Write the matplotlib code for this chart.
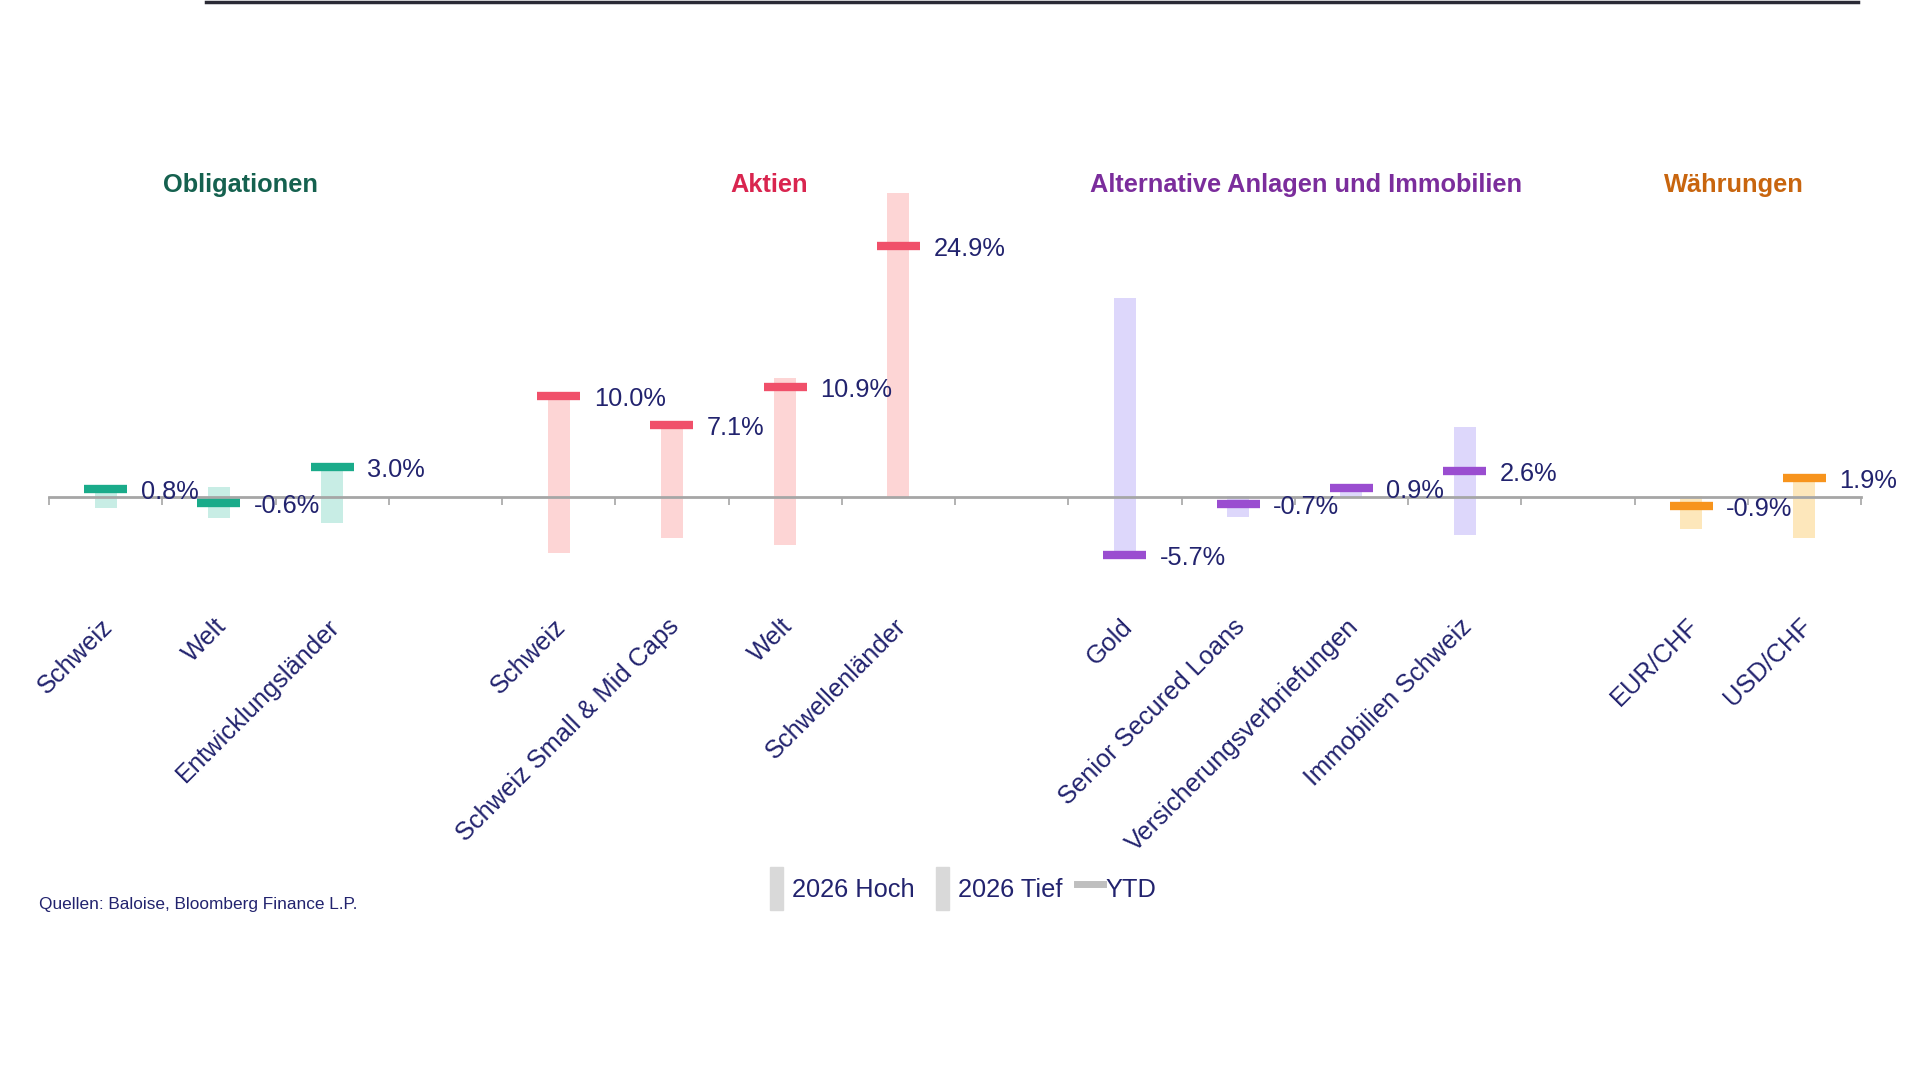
import matplotlib.pyplot as plt
from matplotlib.patches import Rectangle
from matplotlib.lines import Line2D
from matplotlib.legend_handler import HandlerPatch

plt.rcParams["font.family"] = ["Liberation Sans", "DejaVu Sans"]

# data (in %)
bond_labels = ["Schweiz", "Welt", "Entwicklungsländer"]
bond_ytd = [0.8, -0.6, 3.0]
bond_high = [1.0, 1.0, 3.0]
bond_low = [-1.1, -2.1, -2.6]

equity_labels = ["Schweiz", "Schweiz Small & Mid Caps", "Welt", "Schwellenländer"]
equity_ytd = [10.0, 7.1, 10.9, 24.9]
equity_high = [10.2, 7.3, 11.8, 30.1]
equity_low = [-5.5, -4.0, -4.7, 0.0]

alt_labels = ["Gold", "Senior Secured Loans", "Versicherungsverbriefungen", "Immobilien Schweiz"]
alt_ytd = [-5.7, -0.7, 0.9, 2.6]
alt_high = [19.7, 0.1, 0.9, 7.0]
alt_low = [-5.7, -2.0, -0.1, -3.7]

fx_labels = ["EUR/CHF", "USD/CHF"]
fx_ytd = [-0.9, 1.9]
fx_high = [0.1, 2.0]
fx_low = [-3.1, -4.0]

group_titles = ["Obligationen", "Aktien", "Alternative Anlagen und Immobilien", "Währungen"]

NAVY = "#22236e"
FS = 18.3

groups = [
    # labels, ytd, high, low, first slot, marker colour, bar colour, title colour, title x
    (bond_labels, bond_ytd, bond_high, bond_low, 0, "#1aab8a", "#c8ede5", "#15614f", 1.19),
    (equity_labels, equity_ytd, equity_high, equity_low, 4, "#f0506a", "#fdd5d5", "#d9254f", 5.86),
    (alt_labels, alt_ytd, alt_high, alt_low, 9, "#9a4dd0", "#ddd7fb", "#7b2d9c", 10.6),
    (fx_labels, fx_ytd, fx_high, fx_low, 14, "#f7941d", "#fde7bb", "#c8650e", 14.38),
]

fig = plt.figure(figsize=(19.2, 10.8), dpi=100)
ax = fig.add_axes([49 / 1920, 502 / 1080, 1812 / 1920, 404 / 1080])
ax.set_xlim(-0.5, 15.5)
ax.set_ylim(-8, 32)

for (labels, ytd, high, low, start, mcol, bcol, tcol, tx), title in zip(groups, group_titles):
    xs = [start + i for i in range(len(labels))]
    ax.bar(xs, high, width=0.195, color=bcol, zorder=1)
    ax.bar(xs, low, width=0.195, color=bcol, zorder=1)
    ax.hlines(ytd, [x - 0.19 for x in xs], [x + 0.19 for x in xs],
              color=mcol, lw=6, zorder=3)
    for x, v, lab in zip(xs, ytd, labels):
        ax.annotate(f"{v:.1f}%", xy=(x, v), xytext=(35, -3), textcoords="offset pixels",
                    ha="left", va="center", fontsize=FS, color=NAVY, zorder=4)
        ax.annotate(lab, xy=(x, 0), xytext=(-5, -117), textcoords="offset pixels",
                    ha="right", va="top", rotation=45, rotation_mode="anchor",
                    fontsize=FS, color=NAVY)
    ax.text(tx, 30.9, title, ha="center", va="center", fontsize=FS,
            fontweight="bold", color=tcol)

# zero axis with ticks at slot boundaries
for s in ["top", "right", "left"]:
    ax.spines[s].set_visible(False)
ax.spines["bottom"].set_position(("data", 0))
ax.spines["bottom"].set_color("#a6a6a6")
ax.spines["bottom"].set_linewidth(2)
ax.spines["bottom"].set_zorder(2)
ax.set_xticks([i - 0.5 for i in range(17)])
ax.tick_params(axis="x", direction="out", length=6, width=1.2, color="#a6a6a6",
               labelbottom=False)
ax.set_yticks([])


def narrow_patch(legend, orig_handle, xdescent, ydescent, width, height, fontsize):
    w = width * 0.5
    return Rectangle((-xdescent + (width - w) / 2, -ydescent - 0.15 * height), w, height * 1.3)


# legend
handles = [
    Rectangle((0, 0), 1, 1, color="#d9d9d9"),
    Rectangle((0, 0), 1, 1, color="#d9d9d9"),
    Line2D([0], [0], color="#bfbfbf", lw=5),
]
fig.legend(handles, ["2026 Hoch", "2026 Tief", "YTD"], loc="center",
           bbox_to_anchor=(0.5, 0.1775), ncol=3, frameon=False, fontsize=FS,
           labelcolor=NAVY, handlelength=1.0, handleheight=1.6,
           handletextpad=0.1, columnspacing=0.6,
           handler_map={Rectangle: HandlerPatch(patch_func=narrow_patch)})

fig.text(39 / 1920, 1 - 904 / 1080, "Quellen: Baloise, Bloomberg Finance L.P.",
         ha="left", va="center", fontsize=12.4, color=NAVY)

# thin dark line along the top edge
fig.add_artist(Line2D([206 / 1920, 1858 / 1920], [0.9985, 0.9985],
                      color="#2a2a35", lw=2.5))

fig.savefig("out.png", dpi=100, facecolor="white")
